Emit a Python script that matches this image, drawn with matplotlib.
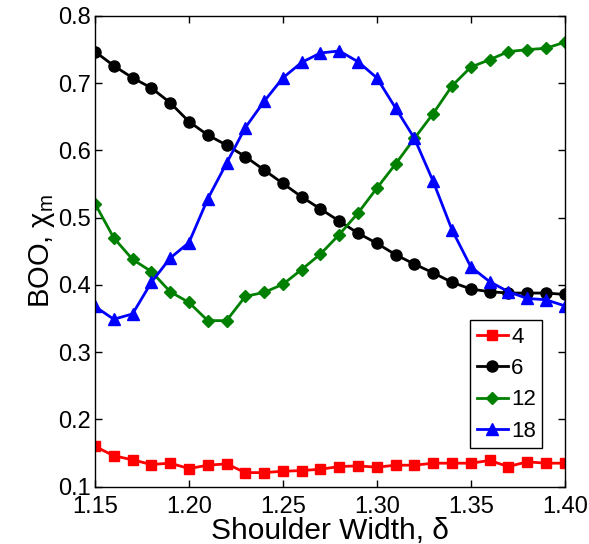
import matplotlib
matplotlib.use("Agg")
import matplotlib.pyplot as plt
from matplotlib.ticker import FormatStrFormatter

plt.rcParams['font.family'] = ['Liberation Sans', 'DejaVu Sans']
plt.rcParams['mathtext.fontset'] = 'custom'
plt.rcParams['mathtext.rm'] = 'Liberation Sans'
plt.rcParams['mathtext.it'] = 'Liberation Sans:italic'

# shoulder width delta
delta = [1.15, 1.16, 1.17, 1.18, 1.19, 1.20, 1.21, 1.22, 1.23, 1.24, 1.25, 1.26, 1.27,
         1.28, 1.29, 1.30, 1.31, 1.32, 1.33, 1.34, 1.35, 1.36, 1.37, 1.38, 1.39, 1.40]

# bond orientational order for each m
boo_4 = [0.160, 0.146, 0.140, 0.133, 0.135, 0.127, 0.132, 0.134, 0.121, 0.121, 0.123, 0.124, 0.126,
         0.130, 0.131, 0.129, 0.132, 0.132, 0.135, 0.135, 0.135, 0.139, 0.130, 0.137, 0.135, 0.135]
boo_6 = [0.747, 0.726, 0.708, 0.693, 0.671, 0.643, 0.623, 0.608, 0.591, 0.571, 0.551, 0.531, 0.513,
         0.495, 0.477, 0.462, 0.445, 0.431, 0.418, 0.404, 0.394, 0.390, 0.388, 0.388, 0.388, 0.386]
boo_12 = [0.521, 0.470, 0.438, 0.420, 0.390, 0.374, 0.347, 0.347, 0.383, 0.389, 0.401, 0.423, 0.446,
          0.475, 0.507, 0.544, 0.580, 0.618, 0.655, 0.696, 0.724, 0.735, 0.747, 0.750, 0.752, 0.761]
boo_18 = [0.368, 0.349, 0.357, 0.404, 0.440, 0.463, 0.528, 0.581, 0.634, 0.673, 0.708, 0.731, 0.745,
          0.748, 0.732, 0.708, 0.663, 0.618, 0.554, 0.482, 0.427, 0.405, 0.390, 0.380, 0.378, 0.369]

labels = ['4', '6', '12', '18']

fig = plt.figure(figsize=(5.89, 5.44), dpi=100)
ax = fig.add_axes([0.1613, 0.1053, 0.7975, 0.8653])

lw = 2.0
ax.plot(delta, boo_4, '-s', color='#ff0000', lw=lw, ms=6.5, label=labels[0])
ax.plot(delta, boo_6, '-o', color='black', lw=lw, ms=8, label=labels[1])
ax.plot(delta, boo_12, '-D', color='#008000', lw=lw, ms=6.5, label=labels[2])
ax.plot(delta, boo_18, '-^', color='#0000ff', lw=lw, ms=9, label=labels[3])

ax.set_xlim(1.15, 1.40)
ax.set_ylim(0.1, 0.8)
ax.set_xticks([1.15, 1.20, 1.25, 1.30, 1.35, 1.40])
ax.set_yticks([0.1, 0.2, 0.3, 0.4, 0.5, 0.6, 0.7, 0.8])
ax.xaxis.set_major_formatter(FormatStrFormatter('%.2f'))
ax.yaxis.set_major_formatter(FormatStrFormatter('%.1f'))
ax.tick_params(direction='in', top=True, right=True, length=5, width=1,
               labelsize=17)
ax.tick_params(axis='x', pad=7)
ax.tick_params(axis='y', pad=3)
for s in ax.spines.values():
    s.set_linewidth(1)

ax.set_xlabel('Shoulder Width, δ', fontsize=21.5, labelpad=-1)
ax.set_ylabel('BOO, χ$_\\mathrm{m}$', fontsize=21, labelpad=1)

leg = ax.legend(loc='lower right', bbox_to_anchor=(0.952, 0.082), fontsize=16,
                fancybox=False, edgecolor='black', framealpha=1,
                handlelength=1.4, handletextpad=0.15, labelspacing=0.47,
                borderpad=0.28, borderaxespad=0)
leg.get_frame().set_linewidth(1)

fig.savefig('out.png', dpi=100)
